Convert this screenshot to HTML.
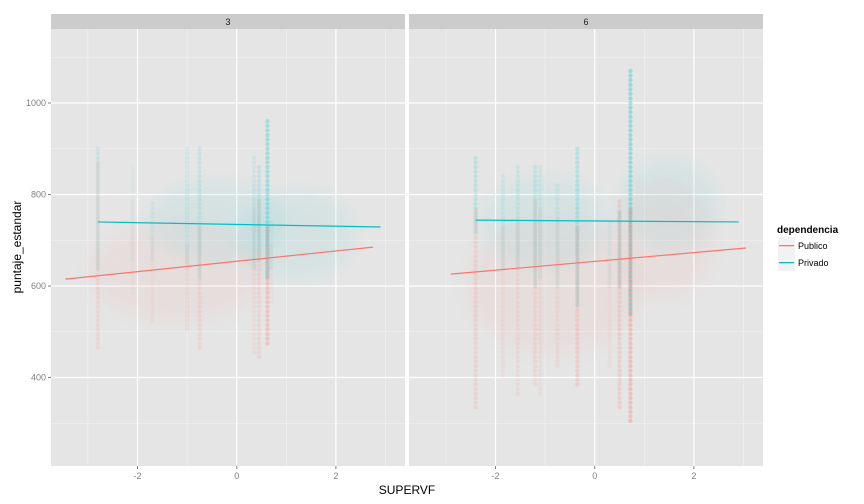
<!DOCTYPE html>
<html><head><meta charset="utf-8"><style>
html,body{margin:0;padding:0;background:#fff;}
svg{display:block;font-family:"Liberation Sans",sans-serif;}
</style></head><body>
<svg id="chart" width="864" height="504" viewBox="0 0 864 504">
<defs>
<filter id="blur" x="-50%" y="-50%" width="200%" height="200%"><feGaussianBlur stdDeviation="8"/></filter>
</defs>
<g id="panels"></g>
<text x="407" y="494" font-size="12" text-anchor="middle" fill="#000">SUPERVF</text>
<text transform="translate(21,247) rotate(-90)" font-size="12" text-anchor="middle" fill="#000">puntaje_estandar</text>
<g>
<text x="777" y="233" font-size="10" font-weight="bold" fill="#000">dependencia</text>
<g>
<rect x="778" y="237" width="17" height="17" fill="#f2f2f2"/>
<rect x="779" y="245" width="15" height="1.3" fill="#F8766D"/>
<text x="798" y="249" font-size="9" fill="#000">Publico</text></g>
<g>
<rect x="778" y="254" width="17" height="17" fill="#f2f2f2"/>
<rect x="779" y="262" width="15" height="1.3" fill="#00BFC4"/>
<text x="798" y="266" font-size="9" fill="#000">Privado</text></g>
</g>
</svg>
<script>
// data
const facets = ["3","6"];
const yTicks = [400,600,800,1000];
const xTicks = [-2,0,2];
// regression lines per facet: [x0, y0, x1, y1]
const pubLine = [[-3.45,615,2.75,685],[-2.9,626,3.05,683]];
const privLine = [[-2.8,740,2.9,729],[-2.4,744,2.9,740]];
// vertical point columns
const colFacet = [0,0,0,0,0,0,0,0,0,1,1,1,1,1,1,1,1,1,1];
const colX     = [-2.8,-2.1,-1.7,-1.0,-0.75,0.35,0.45,0.62,0.7,-2.4,-1.85,-1.55,-1.2,-1.1,-0.75,-0.35,0.5,0.72,0.3];
const colPubMin= [460,580,520,500,460,450,440,470,560,330,400,360,380,360,420,380,330,300,420];
const colPubMax= [860,780,700,680,720,760,780,720,680,760,720,740,780,760,740,720,780,760,640];
const colPrivMin=[640,660,660,640,620,640,660,620,640,720,640,640,600,620,600,560,600,540,600];
const colPrivMax=[900,860,780,900,900,880,860,960,740,880,840,860,860,860,820,900,760,1070,740];
const colWeight= [0.25,0.1,0.15,0.2,0.25,0.2,0.3,0.6,0.12,0.35,0.18,0.22,0.28,0.18,0.18,0.4,0.4,0.7,0.12];
// diffuse clouds: facet, cx, cy, rx(units), ry(value), kind(0 pub,1 priv)
const cloudFacet=[0,0,0,1,1,1,1];
const cloudX=[-1.2,1.2,-0.4,-0.8,1.4,-1.0,1.5];
const cloudY=[630,710,740,600,700,740,780];
const cloudRX=[1.8,1.2,1.4,1.8,1.0,1.3,1.0];
const cloudRY=[110,100,90,150,130,100,100];
const cloudKind=[0,1,1,0,0,1,1];

const NS="http://www.w3.org/2000/svg";
const pLeft=[51,409], pW=354, pTop=29, pBot=466;
const x0px=[236.7,594.7], xUnit=49.6;
function sx(f,v){return x0px[f]+v*xUnit;}
function sy(v){return 103+(1000-v)*0.4575;}
function mk(tag,attrs,parent){const e=document.createElementNS(NS,tag);for(const k in attrs)e.setAttribute(k,attrs[k]);parent.appendChild(e);return e;}
const root=document.getElementById('panels');
const PUB="#F8766D", PRIV="#00BFC4";
facets.forEach((lab,f)=>{
  const g=mk('g',{},root);
  
  
  const strip=mk('rect',{x:pLeft[f],y:14,width:pW,height:15,fill:'#cccccc'},g);
  
  
  const st=mk('text',{x:pLeft[f]+pW/2,y:25,'font-size':9,'text-anchor':'middle',fill:'#1a1a1a'},g);
  st.textContent=lab;
  
  
  mk('rect',{x:pLeft[f],y:pTop,width:pW,height:pBot-pTop,fill:'#e5e5e5'},g);
  const clip=mk('clipPath',{id:'clip'+f},g);
  mk('rect',{x:pLeft[f],y:pTop,width:pW,height:pBot-pTop},clip);
  const inner=mk('g',{'clip-path':'url(#clip'+f+')'},g);
  for(let v=300;v<=1100;v+=200) mk('line',{x1:pLeft[f],x2:pLeft[f]+pW,y1:sy(v),y2:sy(v),stroke:'#f2f2f2','stroke-width':0.6},inner);
  for(let v=-3;v<=3;v+=2) mk('line',{x1:sx(f,v),x2:sx(f,v),y1:pTop,y2:pBot,stroke:'#f2f2f2','stroke-width':0.6},inner);
  yTicks.forEach(v=>mk('line',{x1:pLeft[f],x2:pLeft[f]+pW,y1:sy(v),y2:sy(v),stroke:'#fff','stroke-width':1.2},inner));
  xTicks.forEach(v=>mk('line',{x1:sx(f,v),x2:sx(f,v),y1:pTop,y2:pBot,stroke:'#fff','stroke-width':1.2},inner));
  cloudFacet.forEach((cf,i)=>{ if(cf!==f)return;
    const c=mk('ellipse',{cx:sx(f,cloudX[i]),cy:sy(cloudY[i]),rx:cloudRX[i]*xUnit,ry:cloudRY[i]*0.4575,fill:cloudKind[i]?PRIV:PUB,opacity:0.06,filter:'url(#blur)'},inner);
    
    
  });
  colFacet.forEach((cf,i)=>{ if(cf!==f)return;
    const cg=mk('g',{},inner);
    
    
    const x=sx(f,colX[i]);
    for(let v=colPrivMin[i];v<=colPrivMax[i];v+=10){
      mk('circle',{cx:x,cy:sy(v),r:2.2,fill:PRIV,opacity:colWeight[i]*0.45},cg);
    }
    for(let v=colPubMin[i];v<=colPubMax[i];v+=10){
      mk('circle',{cx:x,cy:sy(v+5),r:2.2,fill:PUB,opacity:colWeight[i]*0.45},cg);
    }
  });
  const pl=pubLine[f], vl=privLine[f];
  const l1=mk('line',{x1:sx(f,pl[0]),y1:sy(pl[1]),x2:sx(f,pl[2]),y2:sy(pl[3]),stroke:PUB,'stroke-width':1.2},inner);
  
  
  const l2=mk('line',{x1:sx(f,vl[0]),y1:sy(vl[1]),x2:sx(f,vl[2]),y2:sy(vl[3]),stroke:PRIV,'stroke-width':1.2},inner);
  
  
  xTicks.forEach(v=>{
    mk('line',{x1:sx(f,v),x2:sx(f,v),y1:pBot,y2:pBot+3,stroke:'#7f7f7f'},g);
    const t=mk('text',{x:sx(f,v),y:pBot+13,'font-size':9,'text-anchor':'middle',fill:'#7f7f7f'},g);
    t.textContent=v<0?'-'+Math.abs(v):String(v);
    
    
  });
});
yTicks.forEach(v=>{
  mk('line',{x1:48,x2:51,y1:sy(v),y2:sy(v),stroke:'#7f7f7f'},root);
  const t=mk('text',{x:46,y:sy(v)+3,'font-size':9,'text-anchor':'end',fill:'#7f7f7f'},root);
  t.textContent=String(v);
  
  
});
</script>
</body></html>
